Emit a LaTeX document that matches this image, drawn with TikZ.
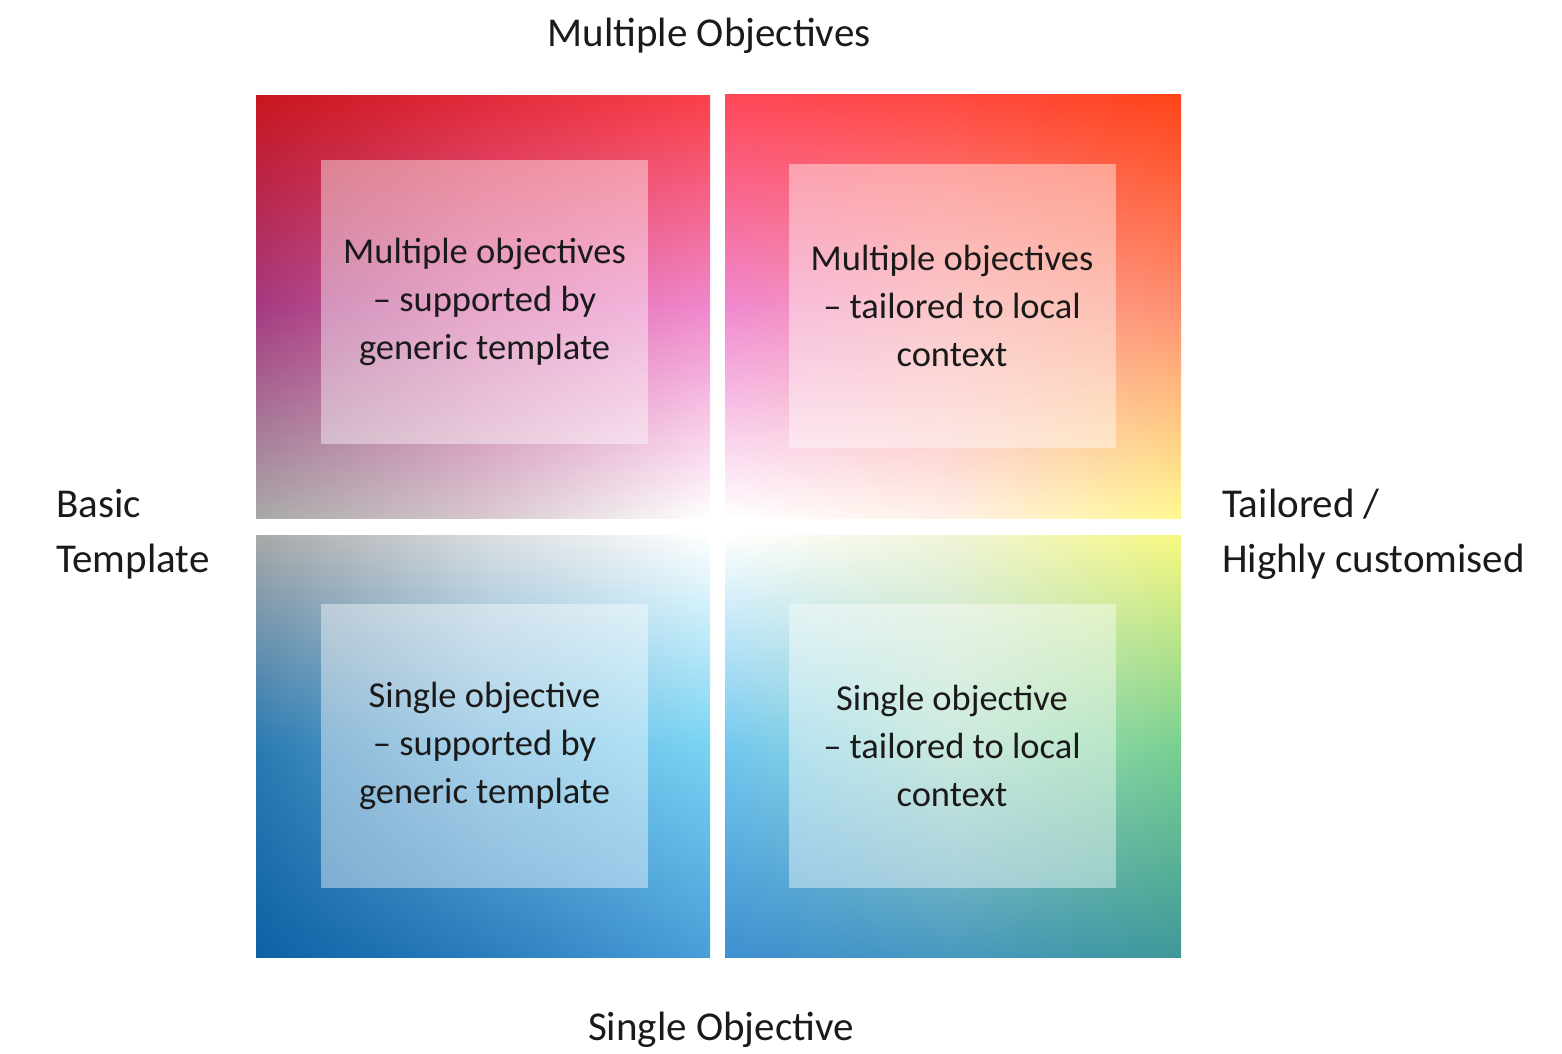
\documentclass[tikz,border=0pt]{standalone}
\usepackage{fontspec}
\setmainfont{Carlito}
\usetikzlibrary{positioning}

% colour grid of each quadrant: row (top to bottom), column (left to right)
\definecolor{tl11}{HTML}{C8161E}\definecolor{tl12}{HTML}{E22A3A}\definecolor{tl13}{HTML}{FA4048}
\definecolor{tl21}{HTML}{A43A80}\definecolor{tl22}{HTML}{D868A8}\definecolor{tl23}{HTML}{F088CC}
\definecolor{tl31}{HTML}{A8A8A8}\definecolor{tl32}{HTML}{D8C8D0}\definecolor{tl33}{HTML}{FFFFFF}

\definecolor{tr11}{HTML}{FF4858}\definecolor{tr12}{HTML}{FF4840}\definecolor{tr13}{HTML}{FF4418}
\definecolor{tr21}{HTML}{F088D0}\definecolor{tr22}{HTML}{F8A0A0}\definecolor{tr23}{HTML}{FF9070}
\definecolor{tr31}{HTML}{FFFFFF}\definecolor{tr32}{HTML}{FFF0E8}\definecolor{tr33}{HTML}{FFF890}

\definecolor{bl11}{HTML}{A8A8A8}\definecolor{bl12}{HTML}{D8DCE0}\definecolor{bl13}{HTML}{FFFFFF}
\definecolor{bl21}{HTML}{2A7AB2}\definecolor{bl22}{HTML}{68B0DA}\definecolor{bl23}{HTML}{78D4F4}
\definecolor{bl31}{HTML}{0E62A4}\definecolor{bl32}{HTML}{2A7CBC}\definecolor{bl33}{HTML}{4A9ED8}

\definecolor{br11}{HTML}{FFFFFF}\definecolor{br12}{HTML}{F0F4D8}\definecolor{br13}{HTML}{F8F880}
\definecolor{br21}{HTML}{72C8F0}\definecolor{br22}{HTML}{A8DCC8}\definecolor{br23}{HTML}{78D090}
\definecolor{br31}{HTML}{3E90D0}\definecolor{br32}{HTML}{4898C0}\definecolor{br33}{HTML}{3E9898}

\definecolor{inktext}{HTML}{1A1A1A}

% bilinear shading from four corner colours: name, nw, ne, sw, se
\newcommand\bilin[5]{%
  \pgfdeclarefunctionalshading{#1}{\pgfpointorigin}{\pgfpoint{100bp}{100bp}}%
  {\pgfshadecolortorgb{#2}{\cnw}\pgfshadecolortorgb{#3}{\cne}%
   \pgfshadecolortorgb{#4}{\csw}\pgfshadecolortorgb{#5}{\cse}}%
  {25 sub 50 div exch 25 sub 50 div exch 2 copy mul
   2 index \csered\space \cswred\space sub mul
   2 index \cnwred\space \cswred\space sub mul add
   1 index \cswred\space \csered\space sub \cnwred\space sub \cnered\space add mul add
   \cswred\space add
   3 index \csegreen\space \cswgreen\space sub mul
   3 index \cnwgreen\space \cswgreen\space sub mul add
   2 index \cswgreen\space \csegreen\space sub \cnwgreen\space sub \cnegreen\space add mul add
   \cswgreen\space add
   4 index \cseblue\space \cswblue\space sub mul
   4 index \cnwblue\space \cswblue\space sub mul add
   3 index \cswblue\space \cseblue\space sub \cnwblue\space sub \cneblue\space add mul add
   \cswblue\space add
   6 3 roll pop pop pop}%
}
\newcommand\quadgrid[1]{%
  \bilin{#1-nw}{#111}{#112}{#121}{#122}%
  \bilin{#1-ne}{#112}{#113}{#122}{#123}%
  \bilin{#1-sw}{#121}{#122}{#131}{#132}%
  \bilin{#1-se}{#122}{#123}{#132}{#133}%
}
\quadgrid{tl}\quadgrid{tr}\quadgrid{bl}\quadgrid{br}

% one quadrant: prefix, left, top, right, bottom
\newcommand\quadfill[5]{%
  \pgfmathsetmacro\xm{(#2+#4)/2}%
  \pgfmathsetmacro\ym{(#3+#5)/2}%
  \shade[shading=#1-nw] (#2,#3) rectangle (\xm+0.5,\ym+0.5);
  \shade[shading=#1-ne] (\xm-0.5,#3) rectangle (#4,\ym+0.5);
  \shade[shading=#1-sw] (#2,\ym-0.5) rectangle (\xm+0.5,#5);
  \shade[shading=#1-se] (\xm-0.5,\ym-0.5) rectangle (#4,#5);
}

\begin{document}
\begin{tikzpicture}[x=1pt,y=-1pt,
    inbox/.style={fill=white, fill opacity=0.42, text opacity=1, text=inktext,
      inner sep=0pt, minimum width=327pt, minimum height=284pt, align=center,
      font=\fontsize{36.5}{48}\selectfont},
    axislabel/.style={inner sep=0pt, text=inktext, font=\fontsize{41}{55}\selectfont}]
  \useasboundingbox (0,0) rectangle (1562,1053);

  % quadrants
  \quadfill{tl}{256}{95}{710}{518}
  \quadfill{tr}{725}{94}{1181}{518}
  \quadfill{bl}{256}{535}{710}{957}
  \quadfill{br}{725}{535}{1181}{957}

  % inner boxes
  \node[inbox] (multi-generic) at (484.5,301.5) {Multiple objectives\\– supported by\\generic template};
  \node[inbox] (multi-tailored) at (952,306) {Multiple objectives\\– tailored to local\\context};
  \node[inbox] (single-generic) at (484.5,745.5) {Single objective\\– supported by\\generic template};
  \node[inbox] (single-tailored) at (952,745.5) {Single objective\\– tailored to local\\context};

  % axis labels
  \node[axislabel, anchor=base] (top-label) at (709,46) {Multiple Objectives};
  \node[axislabel, anchor=base] (bottom-label) at (721,1040) {Single Objective};
  \node[axislabel, anchor=west, align=left] (left-label) at (56,534) {Basic\\Template};
  \node[axislabel, anchor=west, align=left] (right-label) at (1222,534) {Tailored /\\Highly customised};
\end{tikzpicture}
\end{document}
